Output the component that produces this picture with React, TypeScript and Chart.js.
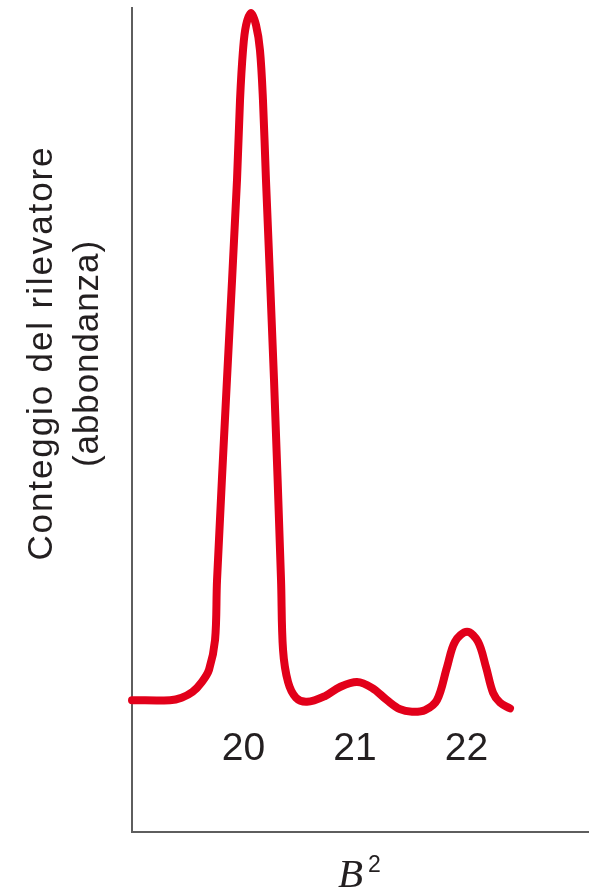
import React, { useEffect, useRef } from "react";
import { Chart, registerables } from "chart.js";

Chart.register(...registerables);

// B^2 positions and detector counts (abundance)
const bValues = [
  19.0, 19.341, 19.445, 19.543, 19.626, 19.691, 19.745, 19.763, 19.852, 19.942, 19.969, 19.996,
  20.023, 20.068, 20.113, 20.148, 20.175, 20.202, 20.274, 20.337, 20.355, 20.4, 20.471,
  20.57, 20.732, 20.866, 21.019, 21.153, 21.288, 21.404, 21.512,
  21.629, 21.736, 21.826, 21.898, 22.006, 22.104, 22.176, 22.239, 22.302, 22.391,
];
const counts = [
  16.0, 16.0, 16.3, 17.0, 18.2, 19.7, 23.3, 30.6, 54.9, 79.1, 88.8, 94.9,
  97.9, 99.4, 97.9, 94.9, 88.8, 79.1, 54.9, 30.6, 22.1, 18.2, 16.3,
  15.8, 16.5, 17.6, 18.2, 17.5, 16.0, 14.9, 14.6,
  14.8, 16.0, 20.0, 23.1, 24.3, 23.1, 20.0, 16.9, 15.7, 15.0,
];
const peakPositions = [20, 21, 22];
const peakLabels = ["20", "21", "22"];
const peakLabelLevel = 10;
const yTitleLines = ["Conteggio del rilevatore", "(abbondanza)"];
const xTitleBase = "B";
const xTitleSup = "2";

const X_MIN = 19;
const X_MAX = 23.1;
const Y_MIN = 0;
const Y_MAX = 100;

const textPlugin = {
  id: "textPlugin",
  afterDraw(chart: any) {
    const ctx = chart.ctx as CanvasRenderingContext2D;
    const xs = chart.scales.x;
    const ys = chart.scales.y;
    ctx.save();
    // peak labels
    ctx.fillStyle = "#231f20";
    ctx.font = '39px "Liberation Sans"';
    ctx.textAlign = "center";
    ctx.textBaseline = "middle";
    peakPositions.forEach((p, i) => {
      ctx.fillText(peakLabels[i], xs.getPixelForValue(p), ys.getPixelForValue(peakLabelLevel));
    });

    // y title (rotated)
    const targets = [415, 227];
    const baselines = [52, 98];
    ctx.font = '35px "Liberation Sans"';
    ctx.fillStyle = "#231f20";
    yTitleLines.forEach((line, i) => {
      ctx.save();
      ctx.translate(baselines[i], 354);
      ctx.rotate(-Math.PI / 2);
      (ctx as any).letterSpacing = "0px";
      const w = ctx.measureText(line).width;
      const ls = (targets[i] - w) / line.length;
      (ctx as any).letterSpacing = ls + "px";
      ctx.textAlign = "center";
      ctx.textBaseline = "alphabetic";
      ctx.fillText(line, ls / 2, 0);
      ctx.restore();
    });
    (ctx as any).letterSpacing = "0px";

    // x title B^2
    ctx.textAlign = "left";
    ctx.textBaseline = "alphabetic";
    ctx.font = 'italic 41px "Liberation Serif"';
    ctx.fillText(xTitleBase, 338, 887);
    ctx.font = '23px "Liberation Sans"';
    ctx.fillText(xTitleSup, 368, 872);
    ctx.restore();
  },
};

export default function App() {
  const ref = useRef<HTMLCanvasElement | null>(null);
  useEffect(() => {
    document.body.style.margin = "0";
    const canvas = ref.current!;
    const chart = new Chart(canvas, {
      type: "line",
      data: {
        datasets: [
          {
            data: bValues.map((b, i) => ({ x: b, y: counts[i] })),
            borderColor: "#e2001a",
            borderWidth: 8,
            pointRadius: 0,
            tension: 0.35,
            borderJoinStyle: "round",
            borderCapStyle: "round",
            fill: false,
            clip: false as any,
          },
        ],
      },
      options: {
        responsive: false,
        animation: false,
        devicePixelRatio: 1,
        layout: { padding: { left: 132, top: 8, right: 0, bottom: 57 } },
        plugins: { legend: { display: false }, tooltip: { enabled: false }, title: { display: false } },
        events: [],
        scales: {
          x: {
            type: "linear",
            min: X_MIN,
            max: X_MAX,
            grid: { display: false, drawTicks: false, tickLength: 0 },
            ticks: { display: false },
            border: { display: true, color: "#5e5e5e", width: 2 },
          },
          y: {
            type: "linear",
            min: Y_MIN,
            max: Y_MAX,
            grid: { display: false, drawTicks: false, tickLength: 0 },
            ticks: { display: false },
            border: { display: true, color: "#5e5e5e", width: 2 },
          },
        },
      },
      plugins: [textPlugin],
    });
    return () => chart.destroy();
  }, []);
  return (
    <div style={{ width: 589, height: 889 }}>
      <canvas ref={ref} width={589} height={889} style={{ width: 589, height: 889, display: "block" }} />
    </div>
  );
}
